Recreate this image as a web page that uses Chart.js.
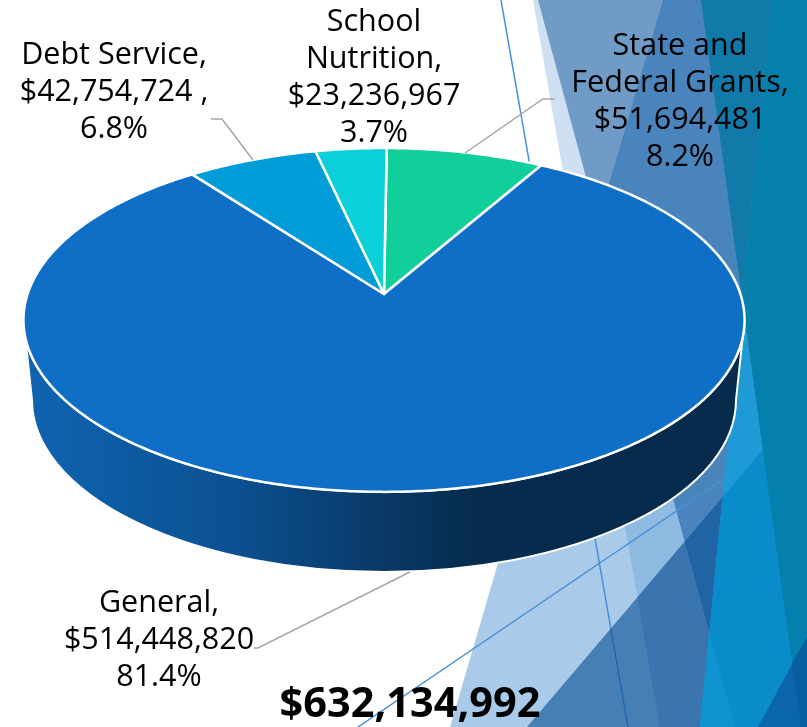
<!DOCTYPE html>
<html>
<head>
<meta charset="utf-8">
<style>html,body{margin:0;padding:0;background:#fff}canvas{display:block}</style>
<script src="https://cdn.jsdelivr.net/npm/chart.js@4/dist/chart.umd.min.js"></script>
</head>
<body>
<canvas id="c" width="807" height="727"></canvas>
<script>
const categories = ['State and Federal Grants', 'General', 'Debt Service', 'School Nutrition'];
const values = [51694481, 514448820, 42754724, 23236967];
const sliceColors = ['#10CF9B', '#0F6FC6', '#009DD9', '#0BD0D9'];
const labelLines = [
  ['State and', 'Federal Grants,', '$51,694,481', '8.2%'],
  ['General,', '$514,448,820', '81.4%'],
  ['Debt Service,', '$42,754,724 ,', '6.8%'],
  ['School', 'Nutrition,', '$23,236,967', '3.7%']
];
const totalLabel = '$632,134,992';

const FONT = "'Open Sans'";
const labelAnchors = [[680, 55], [159, 612], [114, 64], [374, 31]];
const leaders = [
  [[555, 99], [543, 99], [465, 153]],
  [[254, 648], [258, 648], [410, 572]],
  [[211, 119], [222, 119], [253, 160]]
];

// Oblique view of the pie: circle -> projected ellipse
const VIEW = {cx: 384, cy: 294, a: 356.4, c: 168, p: 0.151};
function project(angle) {
  const u = Math.cos(angle), v = -Math.sin(angle), w = 1 + VIEW.p * v;
  return [VIEW.cx + VIEW.a * u / w, VIEW.cy - VIEW.c * v / w];
}

class Arc3D extends Chart.ArcElement {
  static id = 'arc3d';
  static defaults = {...Chart.ArcElement.defaults};
  draw(ctx) {
    const {startAngle, endAngle} = this.getProps(['startAngle', 'endAngle']);
    const o = this.options;
    ctx.save();
    ctx.beginPath();
    ctx.moveTo(VIEW.cx, VIEW.cy);
    const n = Math.max(8, Math.ceil((endAngle - startAngle) / 0.01));
    for (let i = 0; i <= n; i++) {
      const p = project(startAngle + (endAngle - startAngle) * i / n);
      ctx.lineTo(p[0], p[1]);
    }
    ctx.closePath();
    ctx.fillStyle = o.backgroundColor;
    ctx.fill();
    ctx.lineWidth = o.borderWidth;
    ctx.strokeStyle = o.borderColor;
    ctx.lineJoin = 'round';
    ctx.stroke();
    ctx.restore();
  }
}
class Pie3D extends Chart.PieController {
  static id = 'pie3d';
  static defaults = {...Chart.PieController.defaults, dataElementType: 'arc3d'};
  static overrides = Chart.PieController.overrides;
}
Chart.register(Arc3D, Pie3D);

function poly(ctx, pts, color) {
  ctx.beginPath();
  pts.forEach((p, i) => i ? ctx.lineTo(p[0], p[1]) : ctx.moveTo(p[0], p[1]));
  ctx.closePath();
  if (color) { ctx.fillStyle = color; ctx.fill(); }
}
function thinLines(ctx, color) {
  ctx.lineWidth = 1.5;
  ctx.strokeStyle = color;
  ctx.beginPath();
  ctx.moveTo(501, 0); ctx.lineTo(628, 727);
  ctx.moveTo(358, 727); ctx.lineTo(762, 453);
  ctx.stroke();
}

const backdrop = {
  id: 'backdrop',
  beforeDraw(chart) {
    const ctx = chart.ctx;
    ctx.save();
    ctx.fillStyle = '#fff';
    ctx.fillRect(0, 0, 807, 727);
    const rightE3 = [[533,0],[807,0],[807,727],[660,727]];
    const rightE1 = [[663,0],[807,0],[807,727],[450,727]];
    const rightE1E3 = [[581.6,278],[663,0],[807,0],[807,727],[660,727]];
    const rightE2 = [[538,0],[807,0],[807,727],[735,727]];
    const rightE1E2 = [[598,221.6],[663,0],[807,0],[807,727],[735,727]];
    const belowD = [[527,727],[807,398],[807,727]];
    const bright = [[742,298],[801,727],[700,727]];
    poly(ctx, rightE3, '#cfe0f2');
    poly(ctx, rightE1, '#a9cbe9');
    poly(ctx, rightE1E3, '#8fbae1');
    poly(ctx, rightE2, '#6f9bc6');
    poly(ctx, rightE1E2, '#4a84bc');
    ctx.save();
    poly(ctx, belowD); ctx.clip();
    poly(ctx, rightE1, '#457fb4');
    poly(ctx, rightE3, '#3a75b0');
    poly(ctx, rightE2, '#2164a3');
    ctx.restore();
    thinLines(ctx, '#4a90d8');
    ctx.save();
    poly(ctx, belowD); ctx.clip();
    thinLines(ctx, '#1f66ab');
    ctx.restore();
    poly(ctx, bright, '#1e9bd6');
    ctx.save();
    poly(ctx, belowD); ctx.clip();
    poly(ctx, bright, '#098cc9');
    ctx.restore();
    ctx.save();
    poly(ctx, bright); ctx.clip();
    poly(ctx, [[709,632],[735,727],[650,727]], '#1094d1');
    ctx.restore();
    poly(ctx, [[701,0],[772,0],[742,298]], '#127aa9');
    poly(ctx, [[772,0],[807,0],[807,727],[801,727],[742,298]], '#0580ad');
    poly(ctx, [[758,727],[807,637],[807,727]], '#0b65ab');
    poly(ctx, [[792,663],[807,637],[807,727],[801,727]], '#085f9f');
    ctx.restore();
  }
};

const wall = {
  id: 'wall',
  beforeDatasetsDraw(chart) {
    const ctx = chart.ctx;
    ctx.save();
    const g = ctx.createLinearGradient(25, 0, 480, 0);
    g.addColorStop(0, '#0f64b0');
    g.addColorStop(0.45, '#0b5192');
    g.addColorStop(0.8, '#093865');
    g.addColorStop(1, '#062b4c');
    ctx.beginPath();
    ctx.ellipse(384, 320, 360.5, 172, 0, 0, Math.PI);
    ctx.lineTo(32, 400);
    ctx.ellipse(384, 400, 352, 172, 0, Math.PI, 0, true);
    ctx.closePath();
    ctx.fillStyle = g;
    ctx.fill();
    ctx.lineWidth = 2;
    ctx.strokeStyle = '#fff';
    ctx.stroke();
    ctx.restore();
  }
};

const callouts = {
  id: 'callouts',
  afterDraw(chart) {
    const ctx = chart.ctx;
    ctx.save();
    ctx.strokeStyle = '#a6a6a6';
    ctx.lineWidth = 1.5;
    leaders.forEach(l => {
      ctx.beginPath();
      l.forEach((p, i) => i ? ctx.lineTo(p[0], p[1]) : ctx.moveTo(p[0], p[1]));
      ctx.stroke();
    });
    ctx.fillStyle = '#000';
    ctx.textAlign = 'center';
    ctx.textBaseline = 'alphabetic';
    ctx.font = '30.5px ' + FONT;
    labelLines.forEach((lines, i) => {
      lines.forEach((t, j) => ctx.fillText(t, labelAnchors[i][0], labelAnchors[i][1] + j * 37));
    });
    ctx.font = 'bold 41.5px ' + FONT;
    ctx.fillText(totalLabel, 410, 717);
    ctx.restore();
  }
};

new Chart(document.getElementById('c'), {
  type: 'pie3d',
  data: {
    labels: categories,
    datasets: [{data: values, backgroundColor: sliceColors, borderColor: '#fff', borderWidth: 2.5}]
  },
  options: {
    responsive: false,
    animation: false,
    rotation: 0.5,
    layout: {padding: {right: 39, bottom: 87}},
    plugins: {legend: {display: false}, tooltip: {enabled: false}}
  },
  plugins: [backdrop, wall, callouts]
});
</script>
</body>
</html>
